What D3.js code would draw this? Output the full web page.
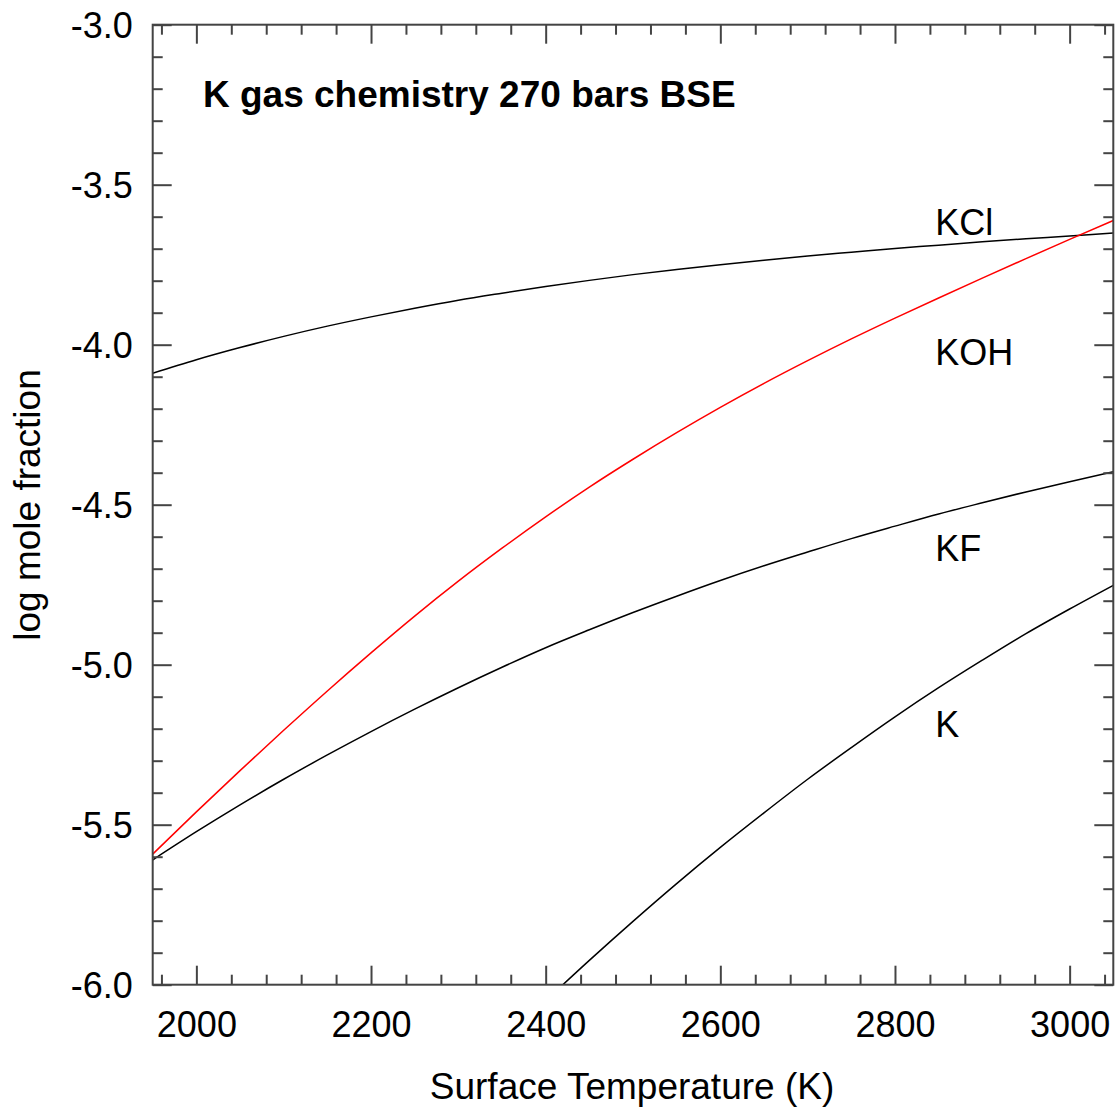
<!DOCTYPE html>
<html>
<head>
<meta charset="utf-8">
<script src="https://cdn.jsdelivr.net/npm/d3@7"></script>
<style>
  html, body { margin: 0; padding: 0; background: #fff; }
  svg { display: block; }
  text { font-family: "Liberation Sans", Arial, Helvetica, sans-serif; fill: #000; }
</style>
</head>
<body>
<svg id="chart" width="1119" height="1114"></svg>
<script>
// ---- data ----
const temperature = [1950, 2000, 2050, 2100, 2150, 2200, 2250, 2300, 2350, 2400, 2450, 2500,
                     2550, 2600, 2650, 2700, 2750, 2800, 2850, 2900, 2950, 3000, 3050];
const kcl = [-4.089, -4.047, -4.009, -3.974, -3.942, -3.913, -3.886, -3.861, -3.839, -3.818, -3.799, -3.781,
             -3.765, -3.750, -3.736, -3.723, -3.711, -3.699, -3.689, -3.678, -3.669, -3.660, -3.651];
const koh = [-5.592, -5.460, -5.331, -5.205, -5.082, -4.963, -4.848, -4.739, -4.636, -4.538, -4.445, -4.358,
             -4.275, -4.196, -4.121, -4.050, -3.982, -3.917, -3.854, -3.792, -3.731, -3.671, -3.612];
const kf  = [-5.610, -5.522, -5.438, -5.358, -5.282, -5.209, -5.139, -5.072, -5.008, -4.947, -4.891, -4.837,
             -4.786, -4.737, -4.691, -4.648, -4.606, -4.567, -4.529, -4.494, -4.460, -4.428, -4.397];
const kTemperature = [2400, 2450, 2500, 2550, 2600, 2650, 2700, 2750, 2800, 2850, 2900, 2950, 3000, 3050];
const kAtom = [-6.050, -5.924, -5.802, -5.684, -5.571, -5.463, -5.358, -5.259, -5.163, -5.072, -4.986, -4.903, -4.826, -4.752];

const seriesNames = ["KCl", "KOH", "KF", "K"];
const seriesColors = ["#000000", "#ff0000", "#000000", "#000000"];
// label anchor positions in data units (temperature, log mole fraction)
const labelT = [2846, 2846, 2846, 2846];
const labelV = [-3.657, -4.063, -4.675, -5.225];

const xMajorTicks = [2000, 2200, 2400, 2600, 2800, 3000];
const xTickLabels = ["2000", "2200", "2400", "2600", "2800", "3000"];
const yMajorTicks = [-3.0, -3.5, -4.0, -4.5, -5.0, -5.5, -6.0];
const yTickLabels = ["-3.0", "-3.5", "-4.0", "-4.5", "-5.0", "-5.5", "-6.0"];

const chartTitle = "K gas chemistry 270 bars BSE";
const xTitle = "Surface Temperature (K)";
const yTitle = "log mole fraction";

// ---- layout ----
const mLeft = 152.7, mTop = 24.7, W = 960.6, H = 960;
const svg = d3.select("#chart");
const g = svg.append("g").attr("transform", `translate(${mLeft},${mTop})`);

const x = d3.scaleLinear().domain([1950, 3050]).range([0, W]);
const y = d3.scaleLinear().domain([-6.0, -3.0]).range([H, 0]);

const xMinor = d3.range(1960, 3041, 40).filter(t => !xMajorTicks.includes(t));
const yMinor = d3.range(-60, -29, 1).map(v => v / 10).filter(v => !yMajorTicks.some(m => Math.abs(m - v) < 1e-9));

const axisColor = "#444";
const majorLen = 19, minorLen = 10;

// clip
g.append("clipPath").attr("id", "clip").append("rect").attr("width", W).attr("height", H);

// curves
const lineGen = d3.line().x(d => x(d[0])).y(d => y(d[1])).curve(d3.curveMonotoneX);
const seriesData = [
  d3.zip(temperature, kcl),
  d3.zip(temperature, koh),
  d3.zip(temperature, kf),
  d3.zip(kTemperature, kAtom)
];
g.append("g").attr("clip-path", "url(#clip)")
  .selectAll("path").data(seriesData).join("path")
  .attr("d", lineGen)
  .attr("fill", "none")
  .attr("stroke", (d, i) => seriesColors[i])
  .attr("stroke-width", 1.5);

// axes (ticks inward)
function styleAxis(sel) {
  sel.select(".domain").remove();
  sel.selectAll("line").attr("stroke", axisColor).attr("stroke-width", 2);
}
// bottom
const bottomMajor = g.append("g").attr("transform", `translate(0,${H})`)
  .call(d3.axisBottom(x).tickValues(xMajorTicks).tickSize(-majorLen).tickPadding(majorLen + 8)
        .tickFormat((d, i) => xTickLabels[i]));
styleAxis(bottomMajor);
bottomMajor.selectAll("text").attr("font-size", 36).attr("fill", "#000")
  .attr("dy", null).attr("y", 52.6);
const bottomMinor = g.append("g").attr("transform", `translate(0,${H})`)
  .call(d3.axisBottom(x).tickValues(xMinor).tickSize(-minorLen).tickFormat(""));
styleAxis(bottomMinor);
// top
const topMajor = g.append("g")
  .call(d3.axisTop(x).tickValues(xMajorTicks).tickSize(-majorLen).tickFormat(""));
styleAxis(topMajor);
const topMinor = g.append("g")
  .call(d3.axisTop(x).tickValues(xMinor).tickSize(-minorLen).tickFormat(""));
styleAxis(topMinor);
// left
const leftMajor = g.append("g")
  .call(d3.axisLeft(y).tickValues(yMajorTicks).tickSize(-majorLen).tickPadding(majorLen + 20)
        .tickFormat((d, i) => yTickLabels[i]));
styleAxis(leftMajor);
leftMajor.selectAll("text").attr("font-size", 36).attr("fill", "#000")
  .attr("dy", null).attr("y", 12.8).attr("x", -20);
const leftMinor = g.append("g")
  .call(d3.axisLeft(y).tickValues(yMinor).tickSize(-minorLen).tickFormat(""));
styleAxis(leftMinor);
// right
const rightMajor = g.append("g").attr("transform", `translate(${W},0)`)
  .call(d3.axisRight(y).tickValues(yMajorTicks).tickSize(-majorLen).tickFormat(""));
styleAxis(rightMajor);
const rightMinor = g.append("g").attr("transform", `translate(${W},0)`)
  .call(d3.axisRight(y).tickValues(yMinor).tickSize(-minorLen).tickFormat(""));
styleAxis(rightMinor);

// frame
g.append("rect").attr("width", W).attr("height", H)
  .attr("fill", "none").attr("stroke", axisColor).attr("stroke-width", 2);

// series labels
g.selectAll("text.series").data(seriesNames).join("text")
  .attr("class", "series")
  .attr("x", (d, i) => x(labelT[i]))
  .attr("y", (d, i) => y(labelV[i]))
  .attr("font-size", 36)
  .text(d => d);

// title
g.append("text").attr("x", 203 - mLeft).attr("y", 107.4 - mTop)
  .attr("font-size", 37).attr("font-weight", "bold").text(chartTitle);

// axis titles
svg.append("text").attr("x", mLeft + W / 2 - 1).attr("y", 1098.5)
  .attr("text-anchor", "middle").attr("font-size", 37).text(xTitle);
svg.append("text").attr("transform", "translate(39.5,505) rotate(-90)")
  .attr("text-anchor", "middle").attr("font-size", 37).text(yTitle);
</script>
</body>
</html>
